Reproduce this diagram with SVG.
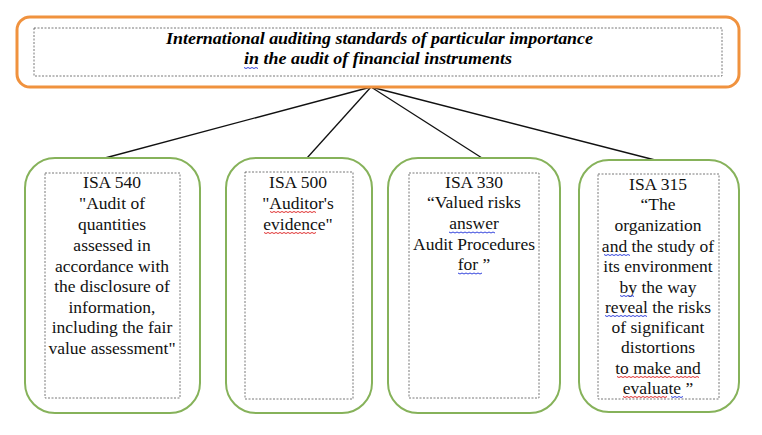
<svg xmlns="http://www.w3.org/2000/svg" width="762" height="435" viewBox="0 0 762 435">
<style>
.bg{fill:#ffffff}
.top{fill:#ffffff;stroke:#F0923E;stroke-width:3}
.node{fill:#ffffff;stroke:#86B25A;stroke-width:2}
.inner{fill:none;stroke:#555555;stroke-width:0.8;stroke-dasharray:2,1.5}
.title{font-weight:bold;font-style:italic;font-size:16.5px;fill:#000;text-anchor:middle}
.t{font-size:17.5px;fill:#111;text-anchor:middle}
.conn{stroke:#111;stroke-width:1.3;fill:none}
.wb{stroke:#3344dd;stroke-width:1;fill:none}
.wr{stroke:#e03030;stroke-width:1;fill:none}
</style>
<rect class="bg" x="0" y="0" width="762" height="435"/>
<g id="connectors">
<line class="conn" x1="371" y1="87" x2="105" y2="158"/>
<line class="conn" x1="371" y1="87" x2="307" y2="158"/>
<line class="conn" x1="371" y1="87" x2="482" y2="158"/>
<line class="conn" x1="371" y1="87" x2="655" y2="160"/>
</g>
<g id="title" font-family="Liberation Serif, serif">
<rect class="top" x="17" y="17" width="722" height="70" rx="13"/>
<rect class="inner" x="34" y="28" width="688" height="48"/>
<text class="title" x="379.5" y="44" textLength="427" lengthAdjust="spacingAndGlyphs">International auditing standards of particular importance</text>
<text class="title" x="378" y="64" textLength="268" lengthAdjust="spacingAndGlyphs">in the audit of financial instruments</text>
<path class="wb" d="M244 67.5 l2 1 l2 -1 l2 1 l2 -1 l2 1 l2 -1 l2 1"/>
</g>
<g id="isa540" font-family="Liberation Serif, serif">
<rect class="node" x="25" y="158" width="175" height="255" rx="30"/>
<rect class="inner" x="45" y="173" width="135" height="225"/>
<text class="t" x="112" y="188">ISA 540</text>
<text class="t" x="112" y="209">"Audit of</text>
<text class="t" x="112" y="230">quantities</text>
<text class="t" x="112" y="251">assessed in</text>
<text class="t" x="112" y="272">accordance with</text>
<text class="t" x="112" y="292">the disclosure of</text>
<text class="t" x="112" y="313">information,</text>
<text class="t" x="112" y="333">including the fair</text>
<text class="t" x="112" y="354">value assessment"</text>
</g>
<g id="isa500" font-family="Liberation Serif, serif">
<rect class="node" x="226" y="158" width="146" height="255" rx="30"/>
<rect class="inner" x="245" y="172" width="108" height="227"/>
<text class="t" x="298" y="188">ISA 500</text>
<text class="t" x="298" y="209">"Auditor's</text>
<text class="t" x="298" y="230">evidence"</text>
<path class="wr" d="M270 211.5 l2 1 l2 -1 l2 1 l2 -1 l2 1 l2 -1 l2 1 l2 -1 l2 1 l2 -1 l2 1 l2 -1 l2 1 l2 -1 l2 1 l2 -1 l2 1 l2 -1 l2 1 l2 -1 l2 1 l2 -1 l2 1"/>
<path class="wr" d="M264 232.5 l2 1 l2 -1 l2 1 l2 -1 l2 1 l2 -1 l2 1 l2 -1 l2 1 l2 -1 l2 1 l2 -1 l2 1 l2 -1 l2 1 l2 -1 l2 1 l2 -1 l2 1 l2 -1 l2 1 l2 -1 l2 1 l2 -1 l2 1 l2 -1"/>
</g>
<g id="isa330" font-family="Liberation Serif, serif">
<rect class="node" x="388" y="158" width="172" height="255" rx="30"/>
<rect class="inner" x="409" y="173" width="130" height="225"/>
<text class="t" x="474" y="188">ISA 330</text>
<text class="t" x="474" y="208">“Valued risks</text>
<text class="t" x="474" y="229">answer</text>
<text class="t" x="474" y="250">Audit Procedures</text>
<text class="t" x="474" y="270">for ”</text>
<path class="wb" d="M449 232 l2 1 l2 -1 l2 1 l2 -1 l2 1 l2 -1 l2 1 l2 -1 l2 1 l2 -1 l2 1 l2 -1 l2 1 l2 -1 l2 1 l2 -1 l2 1 l2 -1 l2 1 l2 -1 l2 1 l2 -1 l2 1"/>
<path class="wb" d="M458 273 l2 1 l2 -1 l2 1 l2 -1 l2 1 l2 -1 l2 1 l2 -1 l2 1 l2 -1 l2 1 l2 -1"/>
</g>
<g id="isa315" font-family="Liberation Serif, serif">
<rect class="node" x="579" y="160" width="160" height="252" rx="30"/>
<rect class="inner" x="598" y="174" width="121" height="225"/>
<text class="t" x="658" y="190">ISA 315</text>
<text class="t" x="658" y="210">“The</text>
<text class="t" x="658" y="231">organization</text>
<text class="t" x="658" y="252">and the study of</text>
<text class="t" x="658" y="272">its environment</text>
<text class="t" x="658" y="293">by the way</text>
<text class="t" x="658" y="313">reveal the risks</text>
<text class="t" x="658" y="333">of significant</text>
<text class="t" x="658" y="353">distortions</text>
<text class="t" x="658" y="374">to make and</text>
<text class="t" x="658" y="394">evaluate ”</text>
<path class="wb" d="M604 254.5 l2 1 l2 -1 l2 1 l2 -1 l2 1 l2 -1 l2 1 l2 -1 l2 1 l2 -1 l2 1 l2 -1 l2 1"/>
<path class="wb" d="M620 295.5 l2 1 l2 -1 l2 1 l2 -1 l2 1 l2 -1 l2 1"/>
<path class="wb" d="M605 315.5 l2 1 l2 -1 l2 1 l2 -1 l2 1 l2 -1 l2 1 l2 -1 l2 1 l2 -1 l2 1 l2 -1 l2 1 l2 -1 l2 1 l2 -1 l2 1 l2 -1 l2 1 l2 -1 l2 1"/>
<path class="wr" d="M617 376.5 l2 1 l2 -1 l2 1 l2 -1 l2 1 l2 -1 l2 1 l2 -1 l2 1 l2 -1 l2 1 l2 -1 l2 1 l2 -1 l2 1 l2 -1 l2 1 l2 -1 l2 1 l2 -1 l2 1 l2 -1 l2 1 l2 -1 l2 1 l2 -1 l2 1 l2 -1 l2 1 l2 -1 l2 1 l2 -1 l2 1 l2 -1 l2 1 l2 -1 l2 1 l2 -1 l2 1 l2 -1 l2 1"/>
<path class="wr" d="M623 396.5 l2 1 l2 -1 l2 1 l2 -1 l2 1 l2 -1 l2 1 l2 -1 l2 1 l2 -1 l2 1 l2 -1 l2 1 l2 -1 l2 1 l2 -1 l2 1 l2 -1 l2 1 l2 -1 l2 1 l2 -1"/>
<path class="wb" d="M671 396.5 l2 1 l2 -1 l2 1 l2 -1 l2 1 l2 -1"/>
</g>
</svg>
